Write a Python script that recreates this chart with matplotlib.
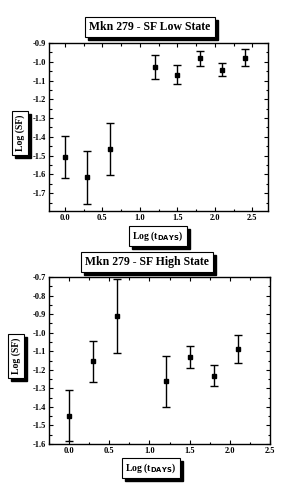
import matplotlib
matplotlib.use("Agg")
import matplotlib.pyplot as plt
from matplotlib.ticker import MultipleLocator, FormatStrFormatter
from matplotlib.patches import Rectangle

plt.rcParams['font.family'] = ['Liberation Serif', 'DejaVu Serif']
plt.rcParams['font.weight'] = 'bold'

# Low state data
low_x = [0.0, 0.3, 0.6, 1.2, 1.5, 1.8, 2.1, 2.4]
low_y = [-1.505, -1.615, -1.465, -1.028, -1.069, -0.980, -1.043, -0.978]
low_err = [0.112, 0.141, 0.140, 0.062, 0.052, 0.040, 0.034, 0.046]

# High state data
high_x = [0.0, 0.3, 0.6, 1.2, 1.5, 1.8, 2.1]
high_y = [-1.448, -1.155, -0.909, -1.263, -1.132, -1.232, -1.087]
high_err = [0.138, 0.112, 0.198, 0.138, 0.060, 0.057, 0.077]

W, H = 285, 493
fig = plt.figure(figsize=(W / 100, H / 100), dpi=100)
boxes = []


def boxed(x, y, s, rot=0, size=8.5):
    # text in a white box, positions in pixels from top-left; shadow added later
    t = fig.text(x / W, 1 - y / H, s, rotation=rot, fontsize=size, weight='bold',
                 ha='center', va='center', color='black', zorder=6,
                 bbox=dict(boxstyle='square,pad=0.35', fc='white', ec='black', lw=0.8))
    boxes.append(t)


def panel(rect, xs, ys, es, xlim, ylim):
    ax = fig.add_axes(rect)
    ax.errorbar(xs, ys, yerr=es, fmt='s', color='black', ms=3, capsize=3,
                elinewidth=1, capthick=1)
    ax.set_xlim(*xlim)
    ax.set_ylim(*ylim)
    ax.xaxis.set_major_locator(MultipleLocator(0.5))
    ax.xaxis.set_minor_locator(MultipleLocator(0.25))
    ax.yaxis.set_major_locator(MultipleLocator(0.1))
    ax.yaxis.set_minor_locator(MultipleLocator(0.05))
    ax.tick_params(which='both', direction='in', top=True, right=True,
                   labelsize=6, width=0.8, pad=2)
    ax.tick_params(which='major', length=3)
    ax.tick_params(which='minor', length=1.8)
    ax.xaxis.set_major_formatter(FormatStrFormatter('%.1f'))
    ax.yaxis.set_major_formatter(FormatStrFormatter('%.1f'))
    for sp in ax.spines.values():
        sp.set_linewidth(1)
    return ax


panel([49 / W, 1 - 211 / H, 219 / W, 168 / H], low_x, low_y, low_err,
      (-0.21, 2.71), (-1.795, -0.9))
panel([49 / W, 1 - 444 / H, 221 / W, 167 / H], high_x, high_y, high_err,
      (-0.25, 2.5), (-1.6, -0.7))

boxed(150, 27, 'Mkn 279 - SF Low State')
boxed(20, 133, 'Log (SF)', rot=90, size=7)
boxed(158, 236, r'Log (t$_{\mathbf{DAYS}}$)', size=7)

boxed(147, 262, 'Mkn 279 - SF High State')
boxed(16, 356, 'Log (SF)', rot=90, size=7)
boxed(151, 468, r'Log (t$_{\mathbf{DAYS}}$)', size=7)

# drop shadows behind the boxed labels
fig.canvas.draw()
r = fig.canvas.get_renderer()
for t in boxes:
    bb = t.get_bbox_patch().get_window_extent(r)
    fig.patches.append(Rectangle(((bb.x0 + 3) / W, (bb.y0 - 3) / H),
                                 bb.width / W, bb.height / H,
                                 transform=fig.transFigure, fc='black',
                                 ec='black', zorder=5))

fig.savefig('out.png', dpi=100)
